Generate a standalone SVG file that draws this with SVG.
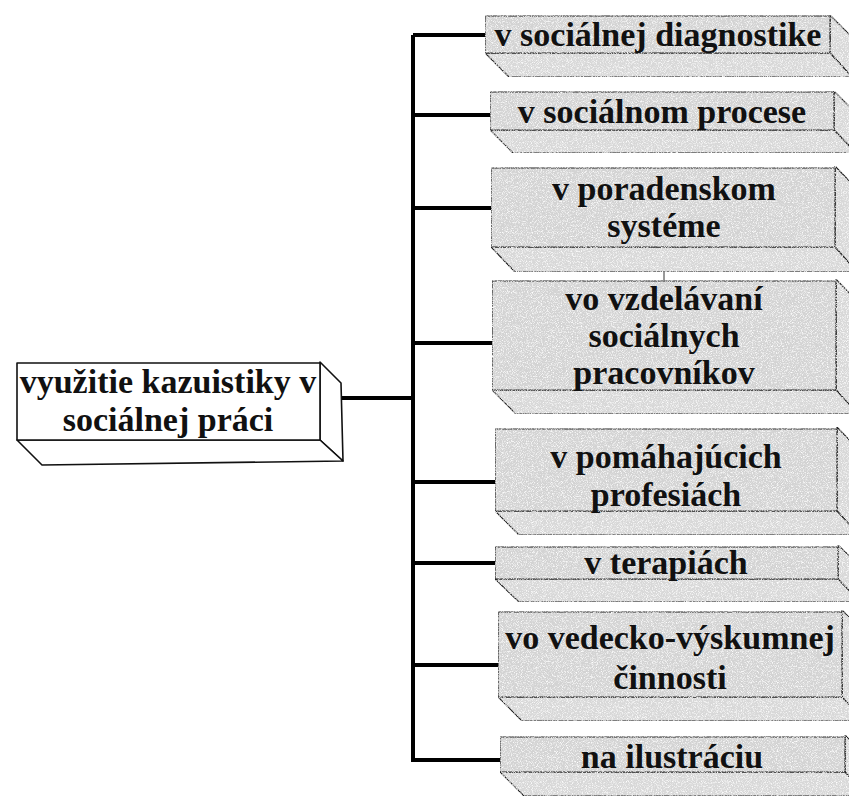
<svg xmlns="http://www.w3.org/2000/svg" width="849" height="796" viewBox="0 0 849 796">
<defs>
<filter id="grain" x="0" y="0" width="100%" height="100%">
<feTurbulence type="fractalNoise" baseFrequency="1.2" numOctaves="1" seed="3" result="n"/>
<feColorMatrix in="n" type="matrix" values="0 0 0 0 1  0 0 0 0 1  0 0 0 0 1  0 0 0 -3 1.6" result="dots"/>
<feComposite in="dots" in2="SourceGraphic" operator="in" result="d2"/>
<feMerge><feMergeNode in="SourceGraphic"/><feMergeNode in="d2"/></feMerge>
</filter>
</defs>
<style>
.w{fill:#ffffff;stroke:#111;stroke-width:1.6;stroke-linejoin:round}
.g{fill:#d3d3d3;stroke:#222;stroke-width:1.2;stroke-linejoin:round}
.gs{fill:#d8d8d8;stroke:#222;stroke-width:1.2;stroke-linejoin:round}
.t{font-family:"Liberation Serif","Times New Roman",serif;font-weight:bold;font-size:34px;fill:#111;text-anchor:middle}
.c{stroke:#000;stroke-width:4;fill:none}
</style>
<rect width="849" height="796" fill="#ffffff"/>

<g id="connectors">
<line class="c" x1="413" y1="35" x2="413" y2="762"/>
<line class="c" x1="320" y1="398" x2="413" y2="398"/>
<line class="c" x1="413" y1="35" x2="486" y2="35"/>
<line class="c" x1="413" y1="115" x2="490" y2="115"/>
<line class="c" x1="413" y1="208" x2="491" y2="208"/>
<line class="c" x1="413" y1="343" x2="492" y2="343"/>
<line class="c" x1="413" y1="482" x2="495" y2="482"/>
<line class="c" x1="413" y1="563" x2="495" y2="563"/>
<line class="c" x1="413" y1="665" x2="498" y2="665"/>
<line class="c" x1="413" y1="760" x2="500" y2="760"/>
<line x1="664" y1="246" x2="664" y2="282" stroke="#333" stroke-width="1"/>
</g>

<g id="root">
<path class="w" d="M320 362 L341 383 L343 461 L320 440 Z"/>
<path class="w" d="M17 440 L320 440 L343 461 L42 465 Z"/>
<rect class="w" x="17" y="363" width="303" height="77"/>
<text class="t" x="168" y="393">využitie kazuistiky v</text>
<text class="t" x="168" y="431">sociálnej práci</text>
</g>

<g id="n1">
<g filter="url(#grain)">
<path class="gs" d="M830 15 L852 37 L852 77 L830 53 Z"/>
<path class="gs" d="M485 53 L830 53 L852 77 L509 77 Z"/>
<rect class="g" x="485" y="16" width="345" height="37"/>
</g>
<text class="t" x="658" y="46">v sociálnej diagnostike</text>
</g>

<g id="n2">
<g filter="url(#grain)">
<path class="gs" d="M834 91 L856 113 L856 153 L834 130 Z"/>
<path class="gs" d="M490 130 L834 130 L856 153 L513 153 Z"/>
<rect class="g" x="490" y="92" width="344" height="38"/>
</g>
<text class="t" x="662" y="123">v sociálnom procese</text>
</g>

<g id="n3">
<g filter="url(#grain)">
<path class="gs" d="M835 166 L857 189 L857 272 L835 247 Z"/>
<path class="gs" d="M491 247 L835 247 L857 272 L515 272 Z"/>
<rect class="g" x="491" y="168" width="344" height="79"/>
</g>
<text class="t" x="664" y="200">v poradenskom</text>
<text class="t" x="664" y="237">systéme</text>
</g>

<g id="n4">
<g filter="url(#grain)">
<path class="gs" d="M836 279 L858 302 L858 414 L836 390 Z"/>
<path class="gs" d="M492 390 L836 390 L858 414 L516 414 Z"/>
<rect class="g" x="492" y="281" width="344" height="109"/>
</g>
<text class="t" x="664" y="310">vo vzdelávaní</text>
<text class="t" x="664" y="347">sociálnych</text>
<text class="t" x="664" y="384">pracovníkov</text>
</g>

<g id="n5">
<g filter="url(#grain)">
<path class="gs" d="M837 427 L859 450 L859 535 L837 511 Z"/>
<path class="gs" d="M495 511 L837 511 L859 535 L519 535 Z"/>
<rect class="g" x="495" y="429" width="342" height="82"/>
</g>
<text class="t" x="666" y="468">v pomáhajúcich</text>
<text class="t" x="666" y="506">profesiách</text>
</g>

<g id="n6">
<g filter="url(#grain)">
<path class="gs" d="M838 545 L860 566 L860 602 L838 579 Z"/>
<path class="gs" d="M495 579 L838 579 L860 602 L519 602 Z"/>
<rect class="g" x="495" y="547" width="343" height="32"/>
</g>
<text class="t" x="666" y="574">v terapiách</text>
</g>

<g id="n7">
<g filter="url(#grain)">
<path class="gs" d="M842 610 L864 632 L864 721 L842 697 Z"/>
<path class="gs" d="M498 697 L842 697 L864 721 L522 721 Z"/>
<rect class="g" x="498" y="612" width="344" height="85"/>
</g>
<text class="t" x="670" y="649">vo vedecko-výskumnej</text>
<text class="t" x="670" y="689">činnosti</text>
</g>

<g id="n8">
<g filter="url(#grain)">
<path class="gs" d="M845 735 L867 757 L867 796 L845 772 Z"/>
<path class="gs" d="M500 772 L845 772 L867 796 L524 796 Z"/>
<rect class="g" x="500" y="737" width="345" height="35"/>
</g>
<text class="t" x="672" y="768">na ilustráciu</text>
</g>
</svg>
